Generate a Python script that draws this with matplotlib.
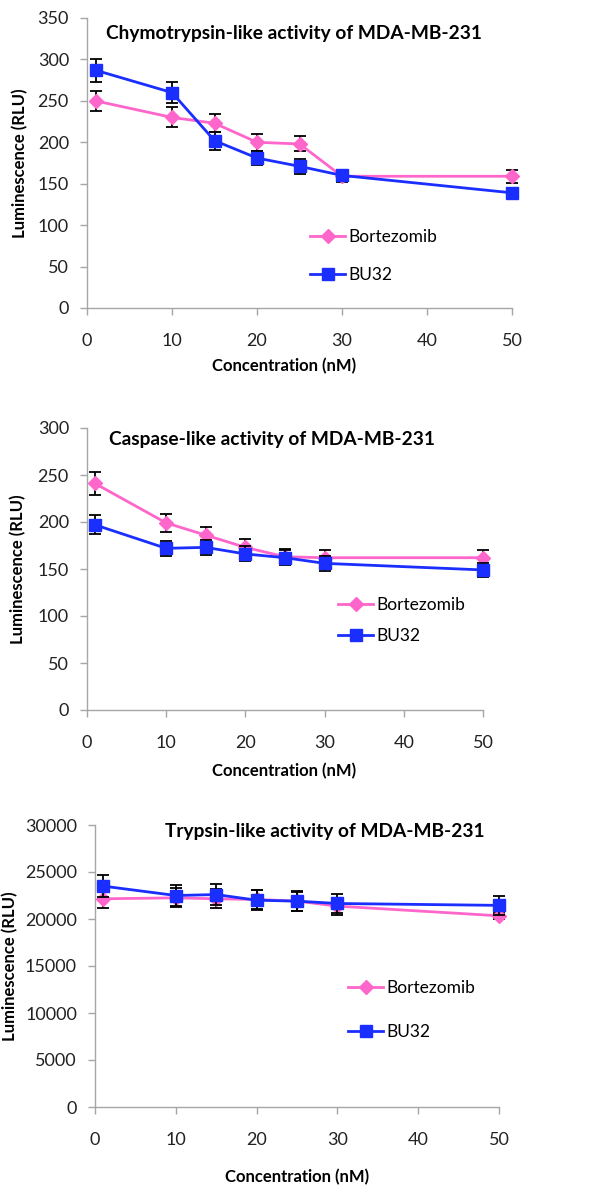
import matplotlib
matplotlib.use("Agg")
import matplotlib.pyplot as plt

plt.rcParams['font.family'] = ['Lato', 'DejaVu Sans']

conc = [1, 10, 15, 20, 25, 30, 50]
xticks = [0, 10, 20, 30, 40, 50]

# Chymotrypsin-like
chy_bort = [250, 230, 223, 200, 198, 159, 159]
chy_bort_err = [12, 12, 11, 10, 9, 7, 8]
chy_bu32 = [287, 260, 202, 181, 171, 160, 139]
chy_bu32_err = [14, 13, 11, 8, 9, 7, 6]

# Caspase-like
cas_bort = [241, 199, 186, 173, 163, 162, 162]
cas_bort_err = [12, 10, 9, 9, 8, 8, 8]
cas_bu32 = [197, 172, 173, 166, 162, 156, 149]
cas_bu32_err = [10, 8, 8, 8, 8, 8, 7]

# Trypsin-like
try_bort = [22150, 22250, 22150, 22080, 21900, 21370, 20340]
try_bort_err = [1000, 1000, 1000, 1000, 1000, 900, 300]
try_bu32 = [23500, 22500, 22600, 22000, 21900, 21650, 21450]
try_bu32_err = [1150, 1100, 1100, 1050, 1050, 1050, 1050]

PINK = '#FF66CC'
BLUE = '#1A2EFF'
GRAY = '#A6A6A6'

fig = plt.figure(figsize=(6, 11.87), dpi=100)
W, H = 600, 1187

def px_axes(l, r, t, b):
    return fig.add_axes([l / W, 1 - b / H, (r - l) / W, (b - t) / H])

panels = [
    dict(box=(87, 512, 18, 308), ylim=(0, 350), ystep=50,
         bort=chy_bort, berr=chy_bort_err, bu=chy_bu32, uerr=chy_bu32_err,
         title='Chymotrypsin-like activity of MDA-MB-231', tpos=(294, 33),
         leg=(310, 239, 274), xlab=(284, 366), ylabx=28),
    dict(box=(87, 483, 428, 710), ylim=(0, 300), ystep=50,
         bort=cas_bort, berr=cas_bort_err, bu=cas_bu32, uerr=cas_bu32_err,
         title='Caspase-like activity of MDA-MB-231', tpos=(272, 439),
         leg=(338, 607, 635), xlab=(284, 771), ylabx=26),
    dict(box=(95, 499, 825, 1107), ylim=(0, 30000), ystep=5000,
         bort=try_bort, berr=try_bort_err, bu=try_bu32, uerr=try_bu32_err,
         title='Trypsin-like activity of MDA-MB-231', tpos=(325, 832),
         leg=(348, 990, 1031), xlab=(297, 1177), ylabx=18),
]

LEG_FS = 12.5
LEG_PX = LEG_FS * 100 / 72

for p in panels:
    l, r, t, b = p['box']
    ax = px_axes(l, r, t, b)
    ax.set_xlim(0, 50)
    ax.set_ylim(*p['ylim'])
    ax.set_xticks(xticks)
    ax.set_yticks(range(p['ylim'][0], p['ylim'][1] + 1, p['ystep']))
    for s in ['top', 'right']:
        ax.spines[s].set_visible(False)
    for s in ['left', 'bottom']:
        ax.spines[s].set_color(GRAY)
        ax.spines[s].set_linewidth(1.0)
    ax.tick_params(direction='out', length=5, width=1, color=GRAY,
                   labelsize=13, labelcolor='#222222', pad=8)
    ax.tick_params(axis='x', pad=13)

    lb = ax.errorbar(conc, p['bort'], yerr=p['berr'], color=PINK, lw=2,
                     marker='D', ms=7.5, mec=PINK, mfc=PINK, ecolor='black',
                     elinewidth=1.3, capsize=4, capthick=1.3, clip_on=False,
                     zorder=3, label='Bortezomib')
    lu = ax.errorbar(conc, p['bu'], yerr=p['uerr'], color=BLUE, lw=2,
                     marker='s', ms=8, mec=BLUE, mfc=BLUE, ecolor='black',
                     elinewidth=1.3, capsize=4, capthick=1.3, clip_on=False,
                     zorder=4, label='BU32')

    ax.set_ylabel('Luminescence (RLU)', fontsize=12, fontweight='bold')
    ax.yaxis.set_label_coords((p['ylabx'] - l) / (r - l), 0.5)

    fig.text(p['xlab'][0] / W, 1 - p['xlab'][1] / H, 'Concentration (nM)',
             ha='center', va='center', fontsize=12, fontweight='bold')
    fig.text(p['tpos'][0] / W, 1 - p['tpos'][1] / H, p['title'],
             ha='center', va='center', fontsize=13.8, fontweight='bold')

    lx, ly1, ly2 = p['leg']
    ax.legend(handles=[lb.lines[0], lu.lines[0]],
              labels=['Bortezomib', 'BU32'],
              loc='upper left', frameon=False, fontsize=LEG_FS,
              handlelength=35 / LEG_PX, handletextpad=0.2,
              labelspacing=(ly2 - ly1 - 1.2 * LEG_PX + 8) / LEG_PX,
              bbox_to_anchor=((lx - l) / (r - l),
                              (b - (ly1 - 0.6 * LEG_PX)) / (b - t)),
              borderaxespad=0, borderpad=0)

fig.savefig('out.png', dpi=100)
